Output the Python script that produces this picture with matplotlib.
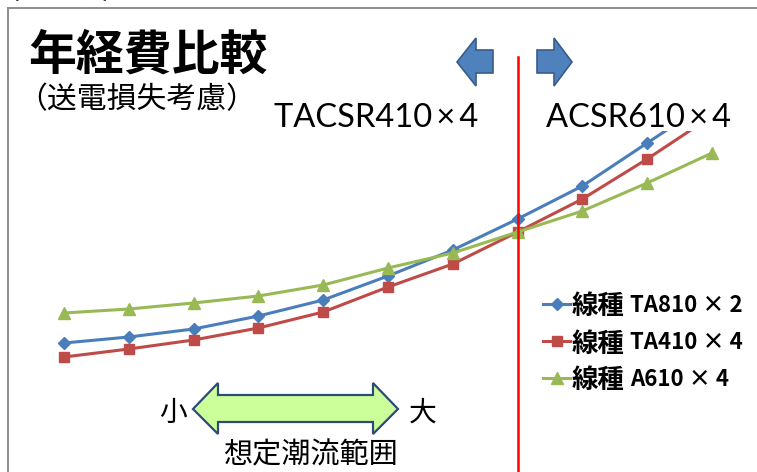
import numpy as np
import matplotlib
matplotlib.use("Agg")
import matplotlib.pyplot as plt
from matplotlib.patches import Polygon, Rectangle
from matplotlib.lines import Line2D

# ---- data ----
points = np.arange(11)  # flow levels (small -> large)
ta810x2 = [57, 63, 71, 84, 100, 124, 150, 181, 214, 257, 300]
ta410x4 = [43, 51, 60, 72, 88, 113, 136, 168, 201, 241, 284]
a610x4 = [87, 91, 97, 104, 115, 132, 147, 168, 189, 217, 247]
legend_prefix = "線種"
legend_names = ["TA810 × 2", "TA410 × 4", "A610 × 4"]
boundary_index = 7
title = "年経費比較"
subtitle = "（送電損失考慮）"
left_label = "TACSR410\u2009×\u20094"
right_label = "ACSR610\u2009×\u20094"

W, H = 757, 472
fig = plt.figure(figsize=(W / 100, H / 100), dpi=100)
ax = fig.add_axes([0, 0, 1, 1])
ax.set_xlim(-64 / 64.8, (W - 64) / 64.8)
ax.set_ylim(400 - H, 400)
ax.axis("off")

CJK = ["Noto Sans CJK JP", "DejaVu Sans"]
LAT = ["Lato", "DejaVu Sans"]

def P(x, y):
    return (x / W, 1 - y / H)

# frame
fig.add_artist(Line2D([8 / W, 8 / W], [0, 1 - 8 / H], color="#868686", lw=1.3))
fig.add_artist(Line2D([8 / W, 1], [1 - 8 / H, 1 - 8 / H], color="#868686", lw=1.3))

# series
blue, red, green = "#4A7EBB", "#BE4B48", "#98B954"
styles = [(ta810x2, blue, "D", 6.5), (ta410x4, red, "s", 7.5), (a610x4, green, "^", 8)]
for vals, c, m, ms in styles:
    ax.plot(points, vals, color=c, lw=2.2, marker=m, ms=ms, zorder=2)

# boundary line
ax.plot([boundary_index, boundary_index], [400 - 57, 400 - H - 5], color="#FF0000", lw=1.8, zorder=3)

# white label area on the right (covers lines as in the original)
fig.add_artist(Rectangle(P(540, 131), (W - 540) / W, (131 - 89) / H, transform=fig.transFigure,
                         facecolor="white", edgecolor="none", zorder=4))

# texts
fig.text(*P(28, 70), title, fontsize=34.5, fontweight="bold", family=CJK, va="baseline", ha="left")
fig.text(*P(17, 108), subtitle, fontsize=21.5, family=CJK, va="baseline", ha="left")
fig.text(*P(-2, -1), "（イメージ）", fontsize=15, fontweight="bold", family=CJK, va="baseline", ha="left")

fig.text(*P(274, 127), left_label, fontsize=23.5, family=LAT, va="baseline", ha="left", zorder=5)
fig.text(*P(546, 127), right_label, fontsize=23.5, family=LAT, va="baseline", ha="left", zorder=5)

# blue direction arrows
arrow_face, arrow_edge = "#4F81BD", "#385D8A"
left_arrow = [(457, 62), (476, 38), (476, 50), (493, 50), (493, 73), (476, 73), (476, 86)]
right_arrow = [(537, 50), (554, 50), (554, 38), (572, 62), (554, 86), (554, 73), (537, 73)]
for pts in (left_arrow, right_arrow):
    fig.add_artist(Polygon([P(x, y) for x, y in pts], closed=True, transform=fig.transFigure,
                           facecolor=arrow_face, edgecolor=arrow_edge, lw=1.2, zorder=6))

# double arrow (flow range)
dbl = [(193, 409), (218, 383), (218, 395), (373, 395), (373, 383), (398, 409),
       (373, 434), (373, 422), (218, 422), (218, 434)]
fig.add_artist(Polygon([P(x, y) for x, y in dbl], closed=True, transform=fig.transFigure,
                       facecolor="#CCFF99", edgecolor="#2E4A7A", lw=1.6))
fig.text(*P(173, 413), "小", fontsize=20, family=CJK, ha="center", va="center")
fig.text(*P(423, 413), "大", fontsize=20, family=CJK, ha="center", va="center")
fig.text(*P(310, 455), "想定潮流範囲", fontsize=21, family=CJK, ha="center", va="center")

# legend (drawn manually: CJK prefix + latin name)
for i, ((vals, c, m, ms), name) in enumerate(zip(styles, legend_names)):
    y = 304 + 37 * i
    fig.add_artist(Line2D([543 / W, 570 / W], [1 - y / H] * 2, color=c, lw=2.2))
    fig.add_artist(Line2D([556.5 / W], [1 - y / H], color=c, marker=m, ms=ms, lw=0))
    fig.text(*P(572, y), legend_prefix, fontsize=19, fontweight="bold", family=CJK,
             ha="left", va="center_baseline")
    fig.text(*P(630, y + 8), name, fontsize=16, fontweight="bold", family=CJK,
             ha="left", va="baseline")

fig.savefig("out.png", dpi=100)
